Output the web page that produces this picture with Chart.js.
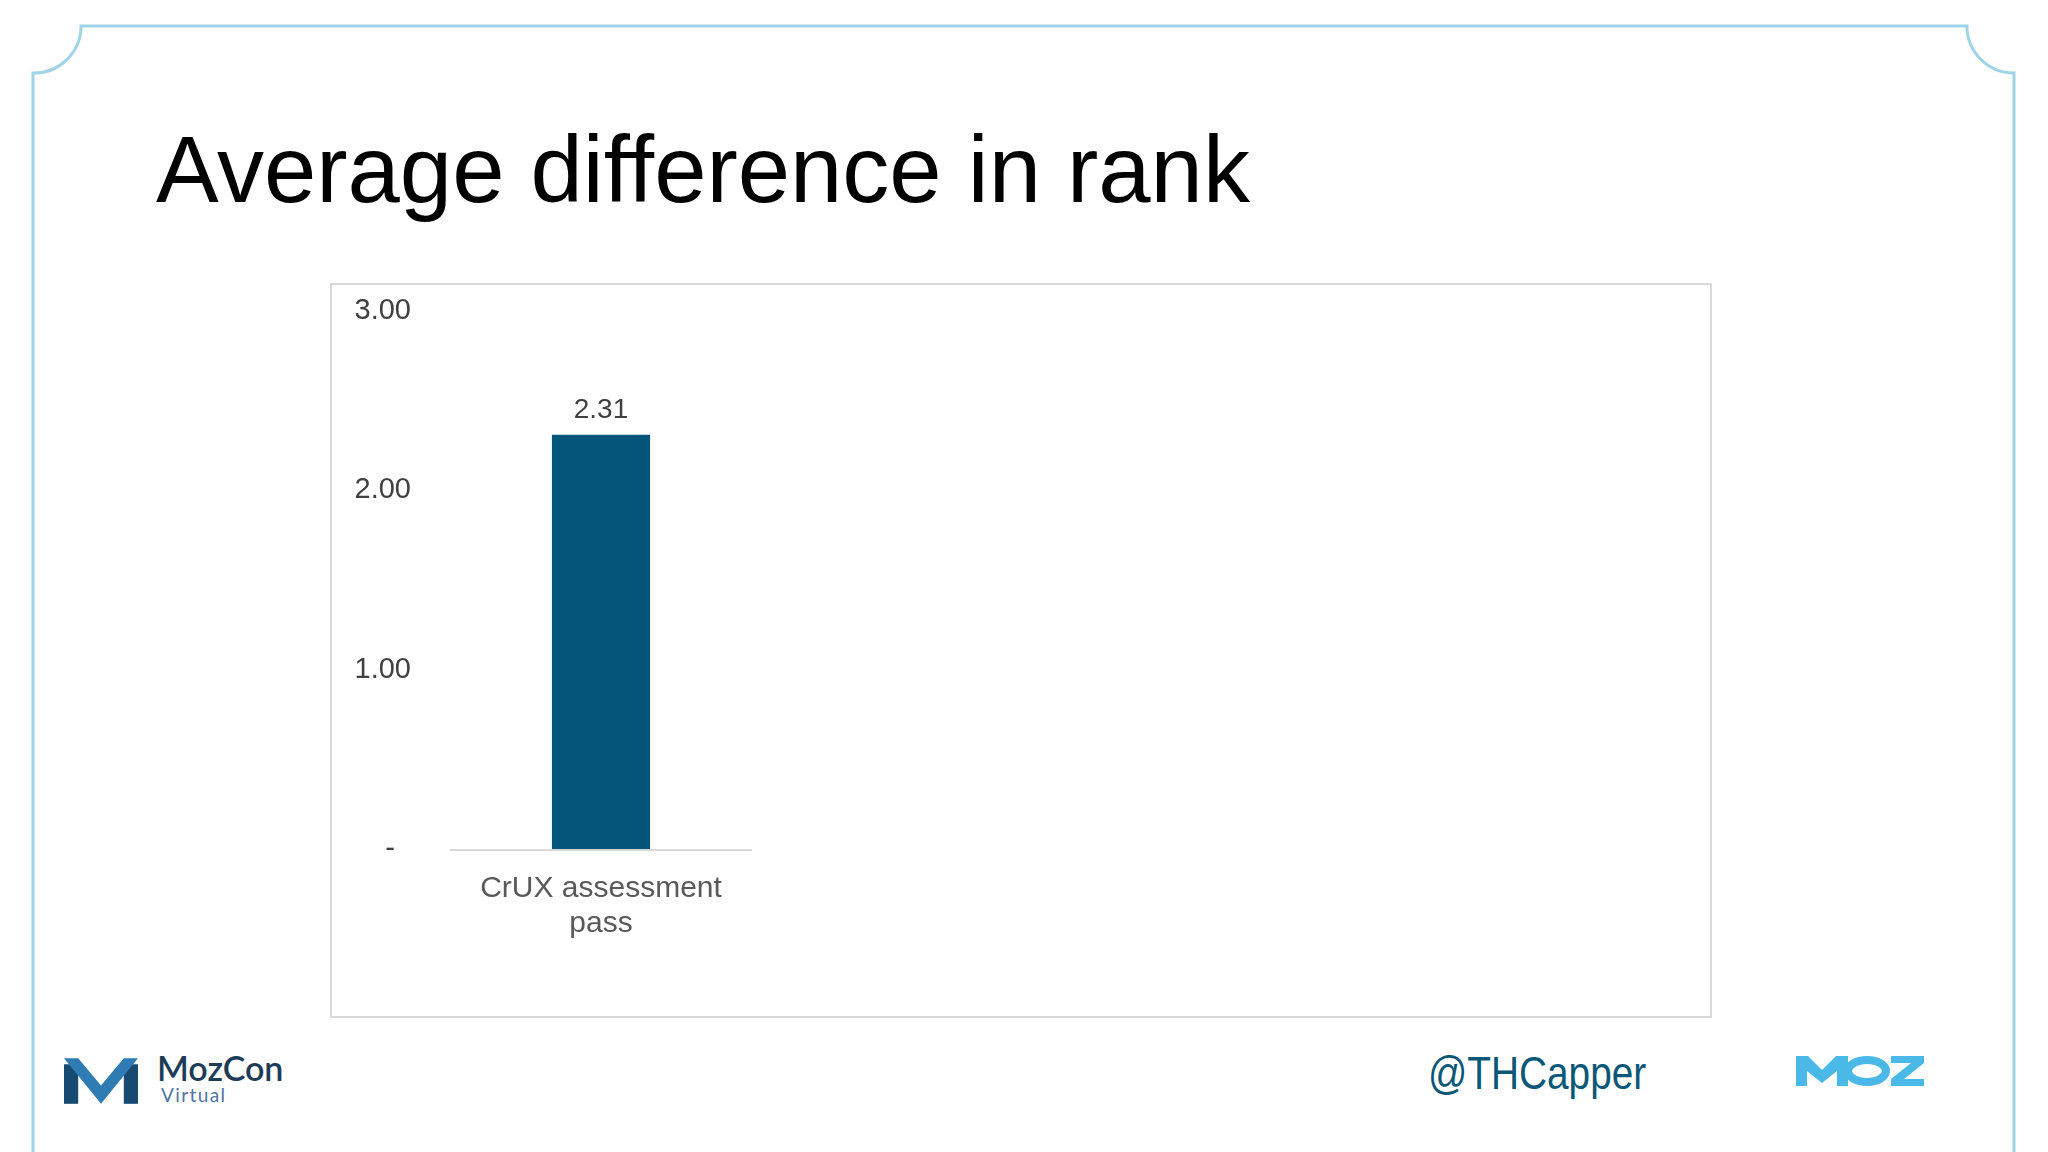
<!DOCTYPE html>
<html>
<head>
<meta charset="utf-8">
<script src="https://cdn.jsdelivr.net/npm/chart.js@4"></script>
<style>
  html, body { margin: 0; padding: 0; background: #ffffff; }
  body { width: 2048px; height: 1152px; position: relative; overflow: hidden; font-family: "Liberation Sans", Arial, sans-serif; }
  #frame { position: absolute; left: 0; top: 0; }
  #title { position: absolute; left: 156px; top: 114px; font-size: 94px; line-height: 112px; color: #000; white-space: nowrap; }
  #box { position: absolute; left: 330px; top: 283px; width: 1382px; height: 735px; border: 2px solid #d9d9d9; box-sizing: border-box; background: #fff; }
  #box canvas { display: block; }
  #handle { position: absolute; left: 1428px; top: 1045px; font-size: 47px; color: #0b5778; white-space: nowrap; transform: scaleX(0.825); transform-origin: 0 0; }
  #mozcon { position: absolute; left: 157px; top: 1049px; font-family: Lato, sans-serif; font-size: 34px; font-weight: 600; color: #1d3c57; line-height: 38px; }
  #virtual { position: absolute; left: 161px; top: 1084px; font-family: Lato, sans-serif; font-size: 19px; letter-spacing: 1.4px; color: #5273a0; line-height: 22px; }
  .logo { position: absolute; }
</style>
</head>
<body>
<svg id="frame" width="2048" height="1152">
  <path d="M 33 1160 V 73 A 47 47 0 0 0 81 26 H 1967 A 47 47 0 0 0 2014 73 V 1160" fill="none" stroke="#9fd4e8" stroke-width="3"/>
</svg>
<div id="title">Average difference in rank</div>
<div id="box"><canvas id="rankChart"></canvas></div>

<svg class="logo" style="left:64px;top:1058px" width="74" height="46" viewBox="0 0 73 45">
  <rect x="0" y="6" width="14" height="39" fill="#174a70"/>
  <rect x="59" y="6" width="14" height="39" fill="#174a70"/>
  <polygon points="0,0 14,0 36.5,27 59,0 73,0 36.5,45" fill="#2f7bb3"/>
</svg>
<div id="mozcon">MozCon</div>
<div id="virtual">Virtual</div>

<div id="handle">@THCapper</div>

<svg class="logo" style="left:1796px;top:1056px" width="128" height="30" viewBox="0 0 128 30">
  <polygon points="0,30 0,0 12,0 26,14 40,0 52,0 52,30 41,30 41,15 26,27 11,15 11,30" fill="#4ab9e8"/>
  <ellipse cx="71" cy="15" rx="19" ry="11" fill="none" stroke="#4ab9e8" stroke-width="8"/>
  <polygon points="95,0 128,0 128,7 108,23 128,23 128,30 95,30 95,23 115,7 95,7" fill="#4ab9e8"/>
</svg>

<script>
// chart values
const categories = [['CrUX assessment', 'pass'], '', '', ''];
const values = [2.31, null, null, null];
const yTickValues = [0, 1, 2, 3];
const yTickLabels = ['-  ', '1.00', '2.00', '3.00'];

const barColor = '#03567a';

// value label above each bar + short axis line under the first category
const barExtras = {
    id: 'barExtras',
    afterDatasetsDraw(chart) {
        const ctx = chart.ctx;
        const xs = chart.scales.x;
        const ys = chart.scales.y;
        const meta = chart.getDatasetMeta(0);

        const step = xs.getPixelForValue(1) - xs.getPixelForValue(0);
        const cx = xs.getPixelForValue(0);
        const y0 = ys.getPixelForValue(0);
        ctx.save();
        ctx.strokeStyle = '#d9d9d9';
        ctx.lineWidth = 2;
        ctx.beginPath();
        ctx.moveTo(cx - step / 2, y0 + 1);
        ctx.lineTo(cx + step / 2, y0 + 1);
        ctx.stroke();

        ctx.fillStyle = '#404040';
        ctx.font = '28px "Liberation Sans", Arial, sans-serif';
        ctx.textAlign = 'center';
        ctx.textBaseline = 'alphabetic';
        meta.data.forEach((bar, i) => {
            if (values[i] == null) return;
            ctx.fillText(values[i].toFixed(2), bar.x, bar.y - 17);
        });
        ctx.restore();
    }
};

const ctx = document.getElementById('rankChart').getContext('2d');
new Chart(ctx, {
    type: 'bar',
    data: {
        labels: categories,
        datasets: [{
            data: values,
            backgroundColor: barColor,
            borderWidth: 0,
            categoryPercentage: 1,
            barPercentage: 0.325
        }]
    },
    options: {
        responsive: true,
        maintainAspectRatio: false,
        animation: false,
        layout: { padding: { top: 26, right: 52, bottom: 0, left: 0 } },
        plugins: { legend: { display: false }, tooltip: { enabled: false } },
        scales: {
            x: {
                grid: { display: false },
                border: { display: false },
                ticks: {
                    color: '#595959',
                    font: { family: '"Liberation Sans", Arial, sans-serif', size: 30, lineHeight: 1.17 },
                    padding: 14,
                    maxRotation: 0,
                    autoSkip: false
                },
                afterFit: (scale) => { scale.height = 167; }
            },
            y: {
                min: 0,
                max: 3,
                grid: { display: false },
                border: { display: false },
                afterBuildTicks: (scale) => { scale.ticks = yTickValues.map(v => ({ value: v })); },
                ticks: {
                    color: '#404040',
                    font: { family: '"Liberation Sans", Arial, sans-serif', size: 29 },
                    padding: 31,
                    callback: (v) => yTickLabels[yTickValues.indexOf(v)]
                },
                afterFit: (scale) => {
                    scale.width = 118;
                    // tick padding is only meant horizontally here
                    scale.paddingTop = 0;
                    scale.paddingBottom = 0;
                }
            }
        }
    },
    plugins: [barExtras]
});
</script>
</body>
</html>
